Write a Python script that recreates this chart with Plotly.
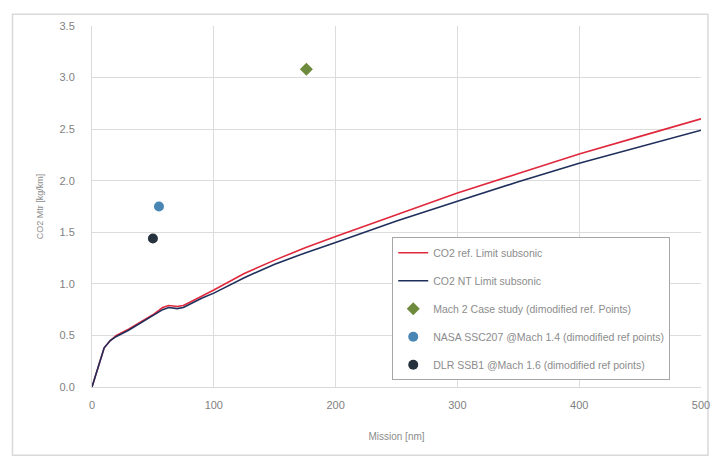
import plotly.graph_objects as go

# Data
range_x = [0, 5, 10, 15, 20, 30, 40, 50, 58, 63, 70, 75, 80, 90, 100, 125, 150, 175, 200,
           250, 300, 350, 400, 450, 500]
co2_ref = [0.0, 0.2, 0.38, 0.45, 0.5, 0.56, 0.63, 0.70, 0.77, 0.79, 0.78, 0.79, 0.82, 0.88,
           0.94, 1.10, 1.23, 1.35, 1.46, 1.67, 1.88, 2.07, 2.26, 2.43, 2.60]
co2_nt = [0.0, 0.2, 0.38, 0.45, 0.49, 0.55, 0.62, 0.69, 0.75, 0.77, 0.76, 0.77, 0.80, 0.86,
          0.91, 1.06, 1.19, 1.30, 1.40, 1.61, 1.80, 1.99, 2.17, 2.33, 2.49]

mach2_x = [176]
mach2_y = [3.08]
nasa_x = [55]
nasa_y = [1.75]
dlr_x = [50]
dlr_y = [1.44]

x_ticks = [0, 100, 200, 300, 400, 500]
y_ticks = [0, 0.5, 1, 1.5, 2, 2.5, 3, 3.5]

names = ["CO2 ref. Limit subsonic", "CO2 NT Limit subsonic",
         "Mach 2 Case study (dimodified ref. Points)",
         "NASA SSC207 @Mach 1.4 (dimodified ref points)",
         "DLR SSB1 @Mach 1.6 (dimodified ref points)"]

fig = go.Figure()
fig.add_trace(go.Scatter(x=range_x, y=co2_ref, mode="lines", name=names[0],
                         line=dict(color="#e0283c", width=1.6), legendgroup="a"))
fig.add_trace(go.Scatter(x=range_x, y=co2_nt, mode="lines", name=names[1],
                         line=dict(color="#1f2f5c", width=1.6), legendgroup="b"))
fig.add_trace(go.Scatter(x=mach2_x, y=mach2_y, mode="markers", name=names[2],
                         marker=dict(symbol="diamond", color="#6e8a3c", size=10), legendgroup="c"))
fig.add_trace(go.Scatter(x=nasa_x, y=nasa_y, mode="markers", name=names[3],
                         marker=dict(symbol="circle", color="#4a86b4", size=10), legendgroup="d"))
fig.add_trace(go.Scatter(x=dlr_x, y=dlr_y, mode="markers", name=names[4],
                         marker=dict(symbol="circle", color="#27323f", size=10), legendgroup="e"))

fig.update_layout(
    width=714, height=450,
    margin=dict(l=84, r=17, t=14, b=71),
    paper_bgcolor="white", plot_bgcolor="white",
    font=dict(family="Liberation Sans, Arial, sans-serif", color="#7f7f7f", size=11),
    showlegend=True,
    legend=dict(x=0.493, y=0.415, xanchor="left", yanchor="top",
                bordercolor="#a6a6a6", borderwidth=1, bgcolor="white",
                font=dict(size=10.5, color="#8c8c8c"), tracegroupgap=9,
                itemwidth=30),
    xaxis=dict(range=[0, 500], tickvals=x_ticks,
               showgrid=True, gridcolor="#dcdcdc", gridwidth=1,
               showline=True, linecolor="#d9d9d9", linewidth=1, zeroline=False,
               ticks="", ticklabelstandoff=8, tickfont=dict(size=11, color="#7f7f7f"),
               title=dict(text="Mission [nm]", font=dict(size=10, color="#8c8c8c"), standoff=22)),
    yaxis=dict(range=[0, 3.5], tickvals=y_ticks, tickformat=".1f",
               showgrid=True, gridcolor="#dcdcdc", gridwidth=1,
               showline=True, linecolor="#d9d9d9", linewidth=1, zeroline=False,
               ticks="", ticklabelstandoff=14, tickfont=dict(size=11, color="#7f7f7f"),
               title=dict(text="CO2 Mtr [kg/km]", font=dict(size=9, color="#8c8c8c"), standoff=14)),
    shapes=[dict(type="rect", xref="paper", yref="paper",
                 x0=-80/613, x1=1 + 7/613, y0=-69/365, y1=1 + 12/365,
                 line=dict(color="#d9d9d9", width=1.5), fillcolor="rgba(0,0,0,0)", layer="below")],
)

fig.write_html("out.html")
